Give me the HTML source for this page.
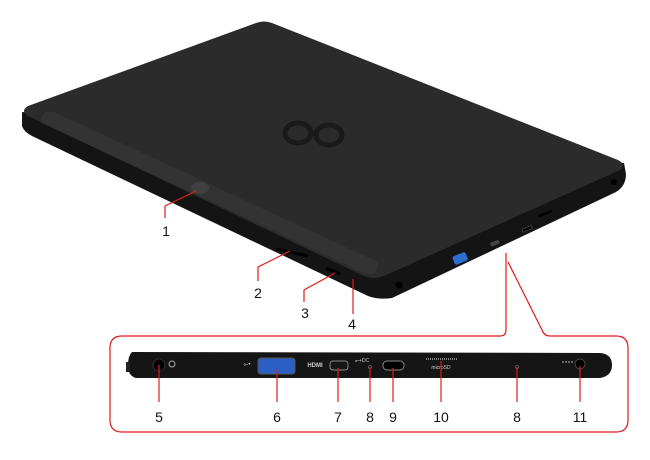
<!DOCTYPE html>
<html><head><meta charset="utf-8"><style>
html,body{margin:0;padding:0;background:#fff;width:650px;height:460px;overflow:hidden}
svg{display:block}
text{font-family:"Liberation Sans",sans-serif}
</style></head><body>
<svg width="650" height="460" viewBox="0 0 650 460" xmlns="http://www.w3.org/2000/svg">
<path d="M22,112 L22,126 Q24,132 32,136 L368,296 Q378,300 392,298 L616,192 Q626,186 626,174 L624,163 Z" fill="#141414"/>
<path d="M256,23 Q264,20 272,23 L618,160 Q626,164 620,170 L384,276 Q374,280 364,276 L28,116 Q20,111 28,106 Z" fill="#2b2b2b"/>
<path d="M44,113 Q48,111 54,112 L378,262 L376,272 Q370,276 362,272 L40,122 Z" fill="#333"/>
<g fill="none" stroke="#1a1a1a" stroke-width="5">
<ellipse cx="298" cy="133" rx="13" ry="10"/>
<ellipse cx="329" cy="135" rx="13" ry="10"/>
</g>
<ellipse cx="200" cy="188" rx="9" ry="6" fill="#404040"/>
<line x1="276" y1="249" x2="308" y2="256" stroke="#000" stroke-width="3"/>
<line x1="326" y1="268" x2="340" y2="274" stroke="#000" stroke-width="3"/>
<circle cx="399" cy="285" r="3.5" fill="#000"/>
<rect x="453" y="254" width="14" height="9" rx="2" fill="#2d6fd0" transform="rotate(-22 460 258)"/>
<rect x="490" y="241" width="9" height="4" fill="#444" transform="rotate(-22 495 242)"/>
<rect x="522" y="227" width="10" height="3" fill="#000" stroke="#555" stroke-width="0.6" transform="rotate(-22 528 228)"/>
<rect x="538" y="212" width="14" height="2.5" fill="#000" transform="rotate(-22 546 213)"/>
<circle cx="614" cy="182" r="3" fill="#000"/>
<g stroke="#e01b1b" stroke-width="1.2" fill="none">
<polyline points="196,191 165,206 165,218"/>
<polyline points="290,251 258,267 258,281"/>
<polyline points="335,273 304,290 304,302"/>
<polyline points="353,279 353,314"/>
<path d="M506,253 L506,330 Q506,336 500,336 L122,336 Q110,336 110,348 L110,420 Q110,432 122,432 L616,432 Q628,432 628,420 L628,348 Q628,336 616,336 L550,336 Q544,336 542,330 L508,262"/>
</g>
<g font-size="14" fill="#111" text-anchor="middle">
<text x="166" y="236">1</text><text x="258" y="298">2</text><text x="305" y="318">3</text><text x="352" y="329">4</text>
</g>
<path d="M132,352 L600,353 Q612,354 612,365 Q612,376 600,378 L136,378 Q128,376 128,365 Q128,356 132,352 Z" fill="#151515"/>
<rect x="126" y="362" width="4" height="10" fill="#222"/>
<circle cx="159" cy="365" r="6" fill="#000" stroke="#333"/>
<circle cx="172" cy="364" r="3" fill="none" stroke="#aaa" stroke-width="1"/>
<text x="247" y="366" font-size="6" fill="#ccc" text-anchor="middle">⟜•</text>
<rect x="258" y="358" width="37" height="16" rx="3" fill="#2c5fc6" stroke="#555"/>
<text x="315" y="367" font-size="6" fill="#ccc" text-anchor="middle" font-weight="bold">HDMI</text>
<rect x="330" y="361" width="18" height="9" rx="3" fill="none" stroke="#888"/>
<text x="362" y="362" font-size="5" fill="#ccc" text-anchor="middle">⟜+DC</text>
<circle cx="370" cy="367" r="1.5" fill="#000" stroke="#555"/>
<rect x="383" y="361" width="21" height="9" rx="4" fill="#000" stroke="#888"/>
<line x1="426" y1="359" x2="457" y2="359" stroke="#aaa" stroke-width="1.5" stroke-dasharray="1,1"/>
<text x="441" y="369" font-size="5" fill="#ccc" text-anchor="middle">microSD</text>
<circle cx="517" cy="367" r="1.5" fill="#000" stroke="#555"/>
<line x1="562" y1="362" x2="574" y2="362" stroke="#aaa" stroke-dasharray="2,1"/>
<circle cx="580" cy="364" r="5" fill="#000" stroke="#444"/>
<g stroke="#e01b1b" stroke-width="1.2">
<line x1="159" y1="365" x2="159" y2="402"/><line x1="277" y1="370" x2="277" y2="402"/>
<line x1="338" y1="368" x2="338" y2="402"/><line x1="370" y1="367" x2="370" y2="402"/>
<line x1="393" y1="368" x2="393" y2="402"/><line x1="441" y1="361" x2="441" y2="402"/>
<line x1="517" y1="367" x2="517" y2="402"/><line x1="580" y1="366" x2="580" y2="402"/>
</g>
<g font-size="14" fill="#111" text-anchor="middle">
<text x="159" y="422">5</text><text x="277" y="422">6</text><text x="338" y="422">7</text><text x="370" y="422">8</text>
<text x="393" y="422">9</text><text x="441" y="422">10</text><text x="517" y="422">8</text><text x="580" y="422">11</text>
</g>
</svg>
</body></html>
